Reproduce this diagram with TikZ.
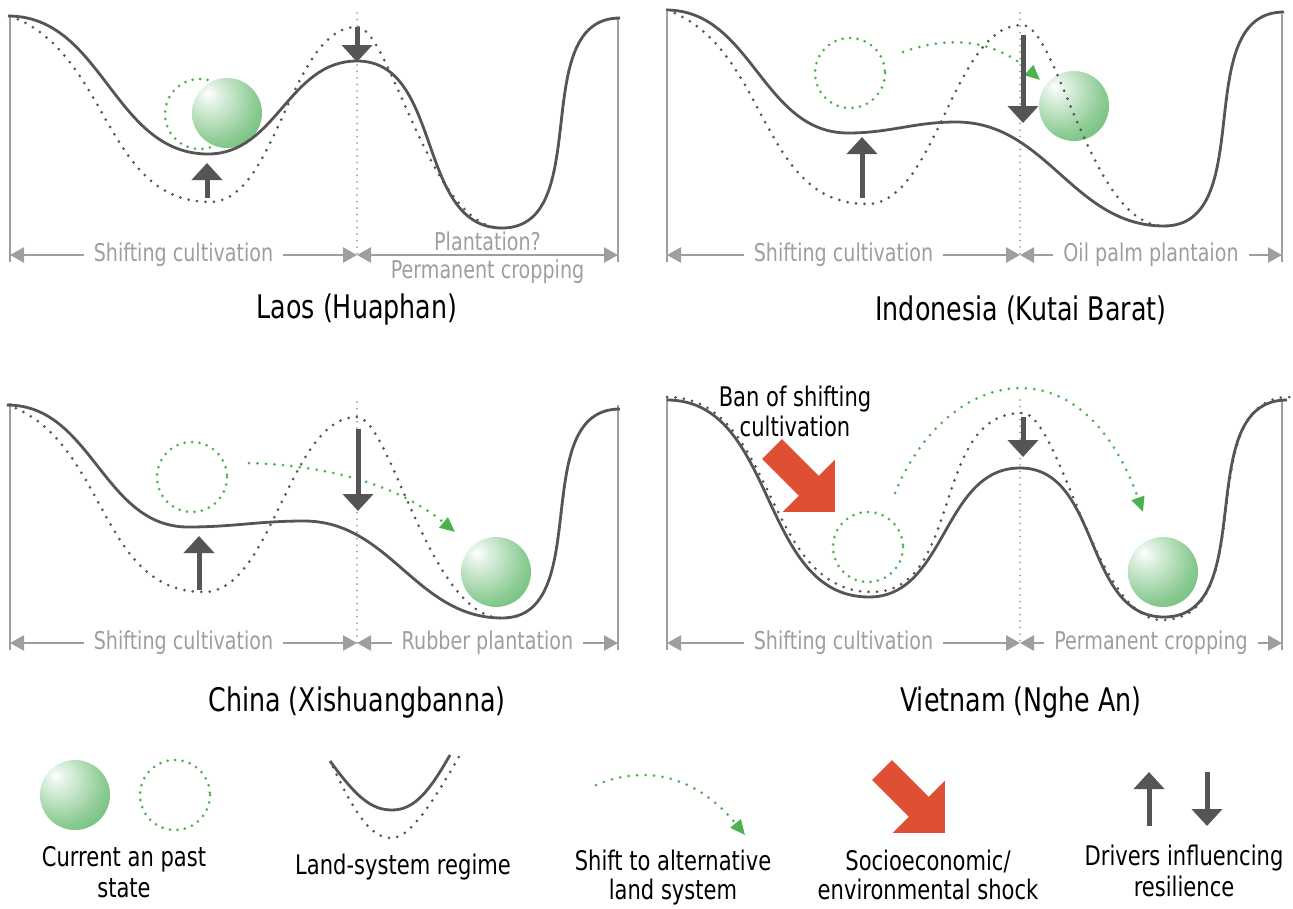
\documentclass[tikz,border=0pt]{standalone}
\usepackage{fontspec}
\setmainfont{DejaVu Sans}[FakeStretch=0.78]
\usetikzlibrary{arrows.meta, positioning}
\definecolor{curvegray}{RGB}{85, 85, 85}
\definecolor{spangray}{RGB}{158, 158, 158}
\definecolor{shiftgreen}{RGB}{76, 178, 80}
\definecolor{ballgreen}{RGB}{58, 166, 70}
\definecolor{shockred}{RGB}{222, 79, 52}
\pgfdeclareradialshading{greenball}{\pgfpoint{-14bp}{14bp}}{color(0bp)=(white); color(7bp)=(ballgreen!15!white); color(30bp)=(ballgreen!58!white); color(52bp)=(ballgreen!88!white); color(66bp)=(ballgreen); color(100bp)=(ballgreen)}
\tikzset{
  shock/.pic={\fill[shockred] (0,-14) -- (52,-14) -- (52,-37) -- (89,0) -- (52,37) -- (52,14) -- (0,14) -- cycle;}
}

\begin{document}
\begin{tikzpicture}[x=1pt, y=-1pt,
    every to/.style={out=0, in=180},
    regime/.style={curvegray, line width=2.8pt},
    oldregime/.style={curvegray, line width=3pt, line cap=round, dash pattern=on 0pt off 8.5pt},
    divider/.style={spangray, line width=2pt, line cap=round, dash pattern=on 0pt off 6.5pt},
    wall/.style={spangray, line width=2.6pt},
    span/.style={spangray, line width=2.6pt, {Triangle[width=15pt,length=14pt]}-{Triangle[width=15pt,length=14pt]}},
    spanlabel/.style={text=spangray, font=\fontsize{24.5}{28}\selectfont, inner sep=2pt},
    gap/.style={fill=white, inner xsep=10pt},
    ball/.style={shading=greenball},
    pastball/.style={shiftgreen, line width=3pt, line cap=round, dash pattern=on 0pt off 7.5pt},
    shiftarrow/.style={shiftgreen, line width=3pt, line cap=round, dash pattern=on 0pt off 8.5pt, -{Triangle[width=13pt,length=15pt]}},
    driver/.style={curvegray, line width=5pt, -{Triangle[width=30pt,length=17pt]}},
    title/.style={font=\fontsize{32.5}{36}\selectfont},
    legend/.style={font=\fontsize{27}{31}\selectfont, align=center, anchor=north}]
\useasboundingbox (0,0) rectangle (1293,908);

% Laos (Huaphan)
\draw[pastball] (200,114) circle (35);
\shade[ball] (227,113) circle (35);
\draw[divider] (357,13) -- (357,255);
\draw[wall] (10,15) -- (10,262);
\draw[wall] (618,18) -- (618,262);
\draw[oldregime] (10,16) to[out=-20] (210,202) to[looseness=0.75] (357,27) .. controls (390,27) and (430,228) .. (502,228) to (620,18);
\draw[regime] (8,16) to (208,154) to (357,61) to (502,228) to (620,18);
\draw[driver] (207,198) -- (207,163);
\draw[driver] (357,27) -- (357,62);
\coordinate (laosL) at (10,255);
\coordinate (laosM) at (357,255);
\coordinate (laosR) at (618,255);
\draw[span] (laosL) -- node[spanlabel, gap] {Shifting cultivation} (laosM);
\draw[span] (laosM) -- node[spanlabel, above=1pt] {Plantation?} node[spanlabel, below=2pt] {Permanent cropping} (laosR);
\node[title] (laos) at (357,310) {Laos (Huaphan)};

% Indonesia (Kutai Barat)
\draw[pastball] (850,73) circle (35);
\draw[divider] (1020,13) -- (1020,255);
\draw[wall] (667,12) -- (667,262);
\draw[wall] (1282,14) -- (1282,262);
\shade[ball] (1074,106) circle (35);
\draw[oldregime] (667,10) to[out=-20] (867,204) to[looseness=0.75] (1022,25) .. controls (1058,25) and (1090,226) .. (1164,226) to (1284,12);
\draw[regime] (666,10) to (848,133) to (956,122) to (1164,226) to (1284,12);
\draw[shiftarrow] (903,52) .. controls (950,35) and (995,40) .. (1040,80);
\draw[driver] (862,198) -- (862,137);
\draw[driver] (1023,35) -- (1023,123);
\coordinate (indoL) at (667,255);
\coordinate (indoM) at (1020,255);
\coordinate (indoR) at (1282,255);
\draw[span] (indoL) -- node[spanlabel, gap] {Shifting cultivation} (indoM);
\draw[span] (indoM) -- node[spanlabel, gap] {Oil palm plantaion} (indoR);
\node[title] (indonesia) at (1021,310) {Indonesia (Kutai Barat)};

% China (Xishuangbanna)
\draw[pastball] (192,477) circle (35);
\draw[divider] (357,402) -- (357,643);
\draw[wall] (10,403) -- (10,650);
\draw[wall] (618,405) -- (618,650);
\shade[ball] (496,572) circle (35);
\draw[oldregime] (8,405) to[out=-20] (204,592) to[looseness=0.75] (357,417) .. controls (390,417) and (430,618) .. (502,618) to (620,409);
\draw[regime] (7,405) to (188,527) to (304,521) to (502,618) to (620,409);
\draw[shiftarrow] (249,463) .. controls (320,465) and (395,482) .. (455,532);
\draw[driver] (199,590) -- (199,536);
\draw[driver] (358,429) -- (358,511);
\coordinate (chinaL) at (10,643);
\coordinate (chinaM) at (357,643);
\coordinate (chinaR) at (618,643);
\draw[span] (chinaL) -- node[spanlabel, gap] {Shifting cultivation} (chinaM);
\draw[span] (chinaM) -- node[spanlabel, gap] {Rubber plantation} (chinaR);
\node[title] (china) at (357,703) {China (Xishuangbanna)};

% Vietnam (Nghe An)
\draw[pastball] (868,547) circle (35);
\draw[divider] (1020,400) -- (1020,643);
\draw[wall] (667,397) -- (667,650);
\draw[wall] (1282,400) -- (1282,650);
\shade[ball] (1163,572) circle (35);
\draw[oldregime] (667,397) to (872,592) to (1022,413) .. controls (1060,413) and (1095,620) .. (1162,620) to (1290,397);
\draw[regime] (667,400) to (869,597) to (1020,468) to (1164,617) to (1287,400);
\draw[shiftarrow] (895,493) .. controls (945,370) and (1080,335) .. (1143,512);
\draw[driver] (1023,417) -- (1023,457);
\pic[rotate=-45] at (772,449) {shock};
\node[legend, font=\fontsize{27}{30}\selectfont] (ban) at (795,382) {Ban of shifting\\cultivation};
\coordinate (vietL) at (667,643);
\coordinate (vietM) at (1020,643);
\coordinate (vietR) at (1282,643);
\draw[span] (vietL) -- node[spanlabel, gap] {Shifting cultivation} (vietM);
\draw[span] (vietM) -- node[spanlabel, gap] {Permanent cropping} (vietR);
\node[title] (vietnam) at (1021,703) {Vietnam (Nghe An)};

% legend
\shade[ball] (75,795) circle (35);
\draw[pastball] (175,795) circle (35);
\node[legend] (stateleg) at (124,843) {Current an past\\state};
\draw[oldregime] (333,767) .. controls (360,825) and (375,838) .. (392,838) .. controls (412,838) and (440,790) .. (461,753);
\draw[regime] (330,761) .. controls (355,795) and (370,810) .. (392,810) .. controls (415,810) and (430,790) .. (450,755);
\node[legend] (regimeleg) at (403,850) {Land-system regime};
\draw[shiftarrow] (596,785) .. controls (650,762) and (700,780) .. (745,835);
\node[legend, font=\fontsize{27}{29}\selectfont] (shiftleg) at (673,846) {Shift to alternative\\land system};
\pic[rotate=-45] at (882,770) {shock};
\node[legend, font=\fontsize{27}{29}\selectfont] (shockleg) at (928,846) {Socioeconomic/\\environmental shock};
\draw[driver] (1149,826) -- (1149,772);
\draw[driver] (1207,772) -- (1207,826);
\node[legend] (driverleg) at (1184,841) {Drivers influencing\\resilience};
\end{tikzpicture}
\end{document}
